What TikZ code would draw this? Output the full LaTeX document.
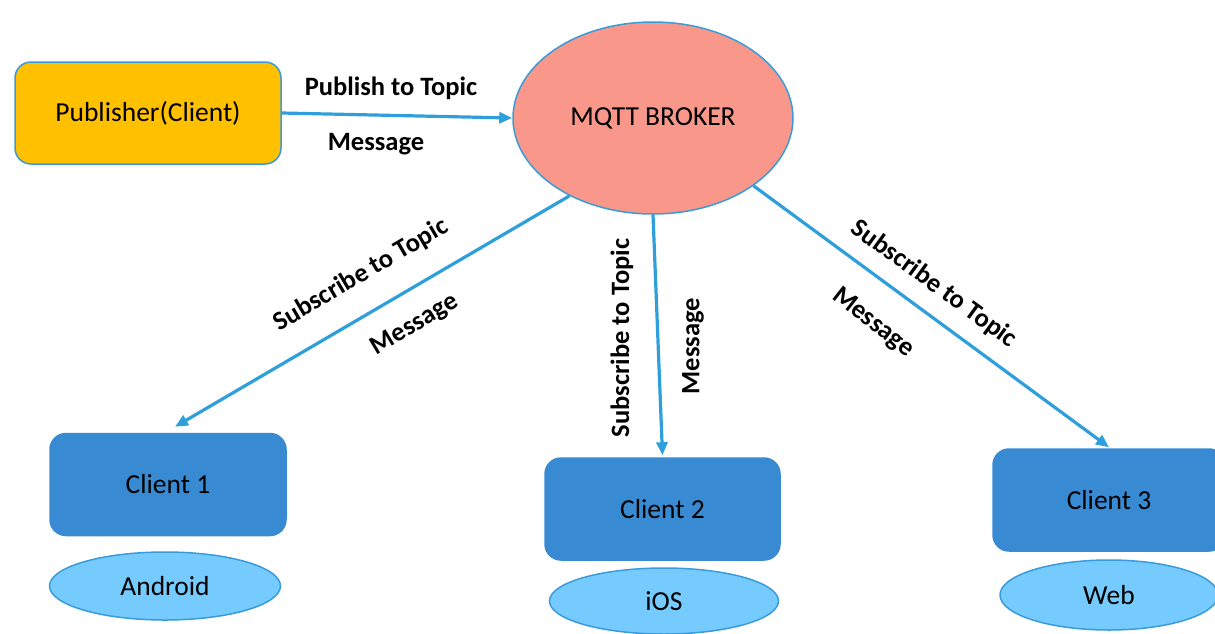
\documentclass[tikz,border=0pt]{standalone}
\usepackage{fontspec}
\setmainfont{Carlito}
\usetikzlibrary{arrows.meta,shapes.geometric}
\definecolor{linkblue}{HTML}{2E9FDB}
\definecolor{edgeblue}{HTML}{3A9BDA}
\definecolor{boxblue}{HTML}{388BD3}
\definecolor{skyfill}{HTML}{75CBFD}
\definecolor{gold}{HTML}{FFC000}
\definecolor{salmon}{HTML}{F9978A}
\tikzset{
  txt/.style={font=\fontsize{27.5}{33}\selectfont, text=black},
  pubbox/.style={txt, draw=edgeblue, line width=1.5pt, fill=gold, rounded corners=16pt, minimum width=266pt, minimum height=102pt, inner sep=0pt},
  clientbox/.style={txt, draw=boxblue, line width=1.5pt, fill=boxblue, rounded corners=16pt, minimum height=102pt, inner sep=0pt},
  oval/.style={txt, ellipse, draw=edgeblue, line width=1.5pt, fill=skyfill, inner sep=0pt},
  link/.style={draw=linkblue, line width=3.2pt, -{Triangle[length=13pt,width=11pt]}},
  lbl/.style={font=\fontsize{26.5}{32}\selectfont\bfseries, text=black, inner sep=0pt},
}
\begin{document}
\begin{tikzpicture}[x=1pt,y=-1pt]
\useasboundingbox (0,0) rectangle (1215,633);
\clip (0,0) rectangle (1215,633);
\node[pubbox] (pub) at (148,113) {Publisher(Client)};
\node[txt, ellipse, draw=edgeblue, line width=1.5pt, fill=salmon, minimum width=280pt, minimum height=192pt, inner sep=0pt] (broker) at (653,118) {MQTT BROKER};
\node[clientbox, minimum width=236pt] (c1) at (168,484.5) {Client 1};
\node[clientbox, minimum width=235pt] (c2) at (662.5,509) {Client 2};
\node[clientbox, minimum width=232pt] (c3) at (1109,500) {Client 3};
\node[oval, minimum width=231pt, minimum height=68pt] (android) at (165,586) {Android};
\node[oval, minimum width=229pt, minimum height=66pt] (ios) at (664,601) {iOS};
\node[oval, minimum width=218pt, minimum height=70pt] (web) at (1109,595) {Web};
\draw[link] (pub.east) -- (broker.west);
\draw[link] (broker.223) -- ([xshift=7pt,yshift=6pt]c1.north);
\draw[link] (broker.south) -- ([yshift=2pt]c2.north);
\draw[link] (broker.-34) -- ([yshift=1pt]c3.north);
\node[lbl] (l1) at (391,88) {Publish to Topic};
\node[lbl] (l2) at (376,144) {Message};
\node[lbl, rotate=30.5] (l3) at (361,275) {Subscribe to Topic};
\node[lbl, rotate=31] (l4) at (415,325) {Message};
\node[lbl, rotate=90] (l5) at (622,338) {Subscribe to Topic};
\node[lbl, rotate=90] (l6) at (693,346) {Message};
\node[lbl, rotate=-36] (l7) at (934,284) {Subscribe to Topic};
\node[lbl, rotate=-38] (l8) at (873,323) {Message};
\end{tikzpicture}
\end{document}
